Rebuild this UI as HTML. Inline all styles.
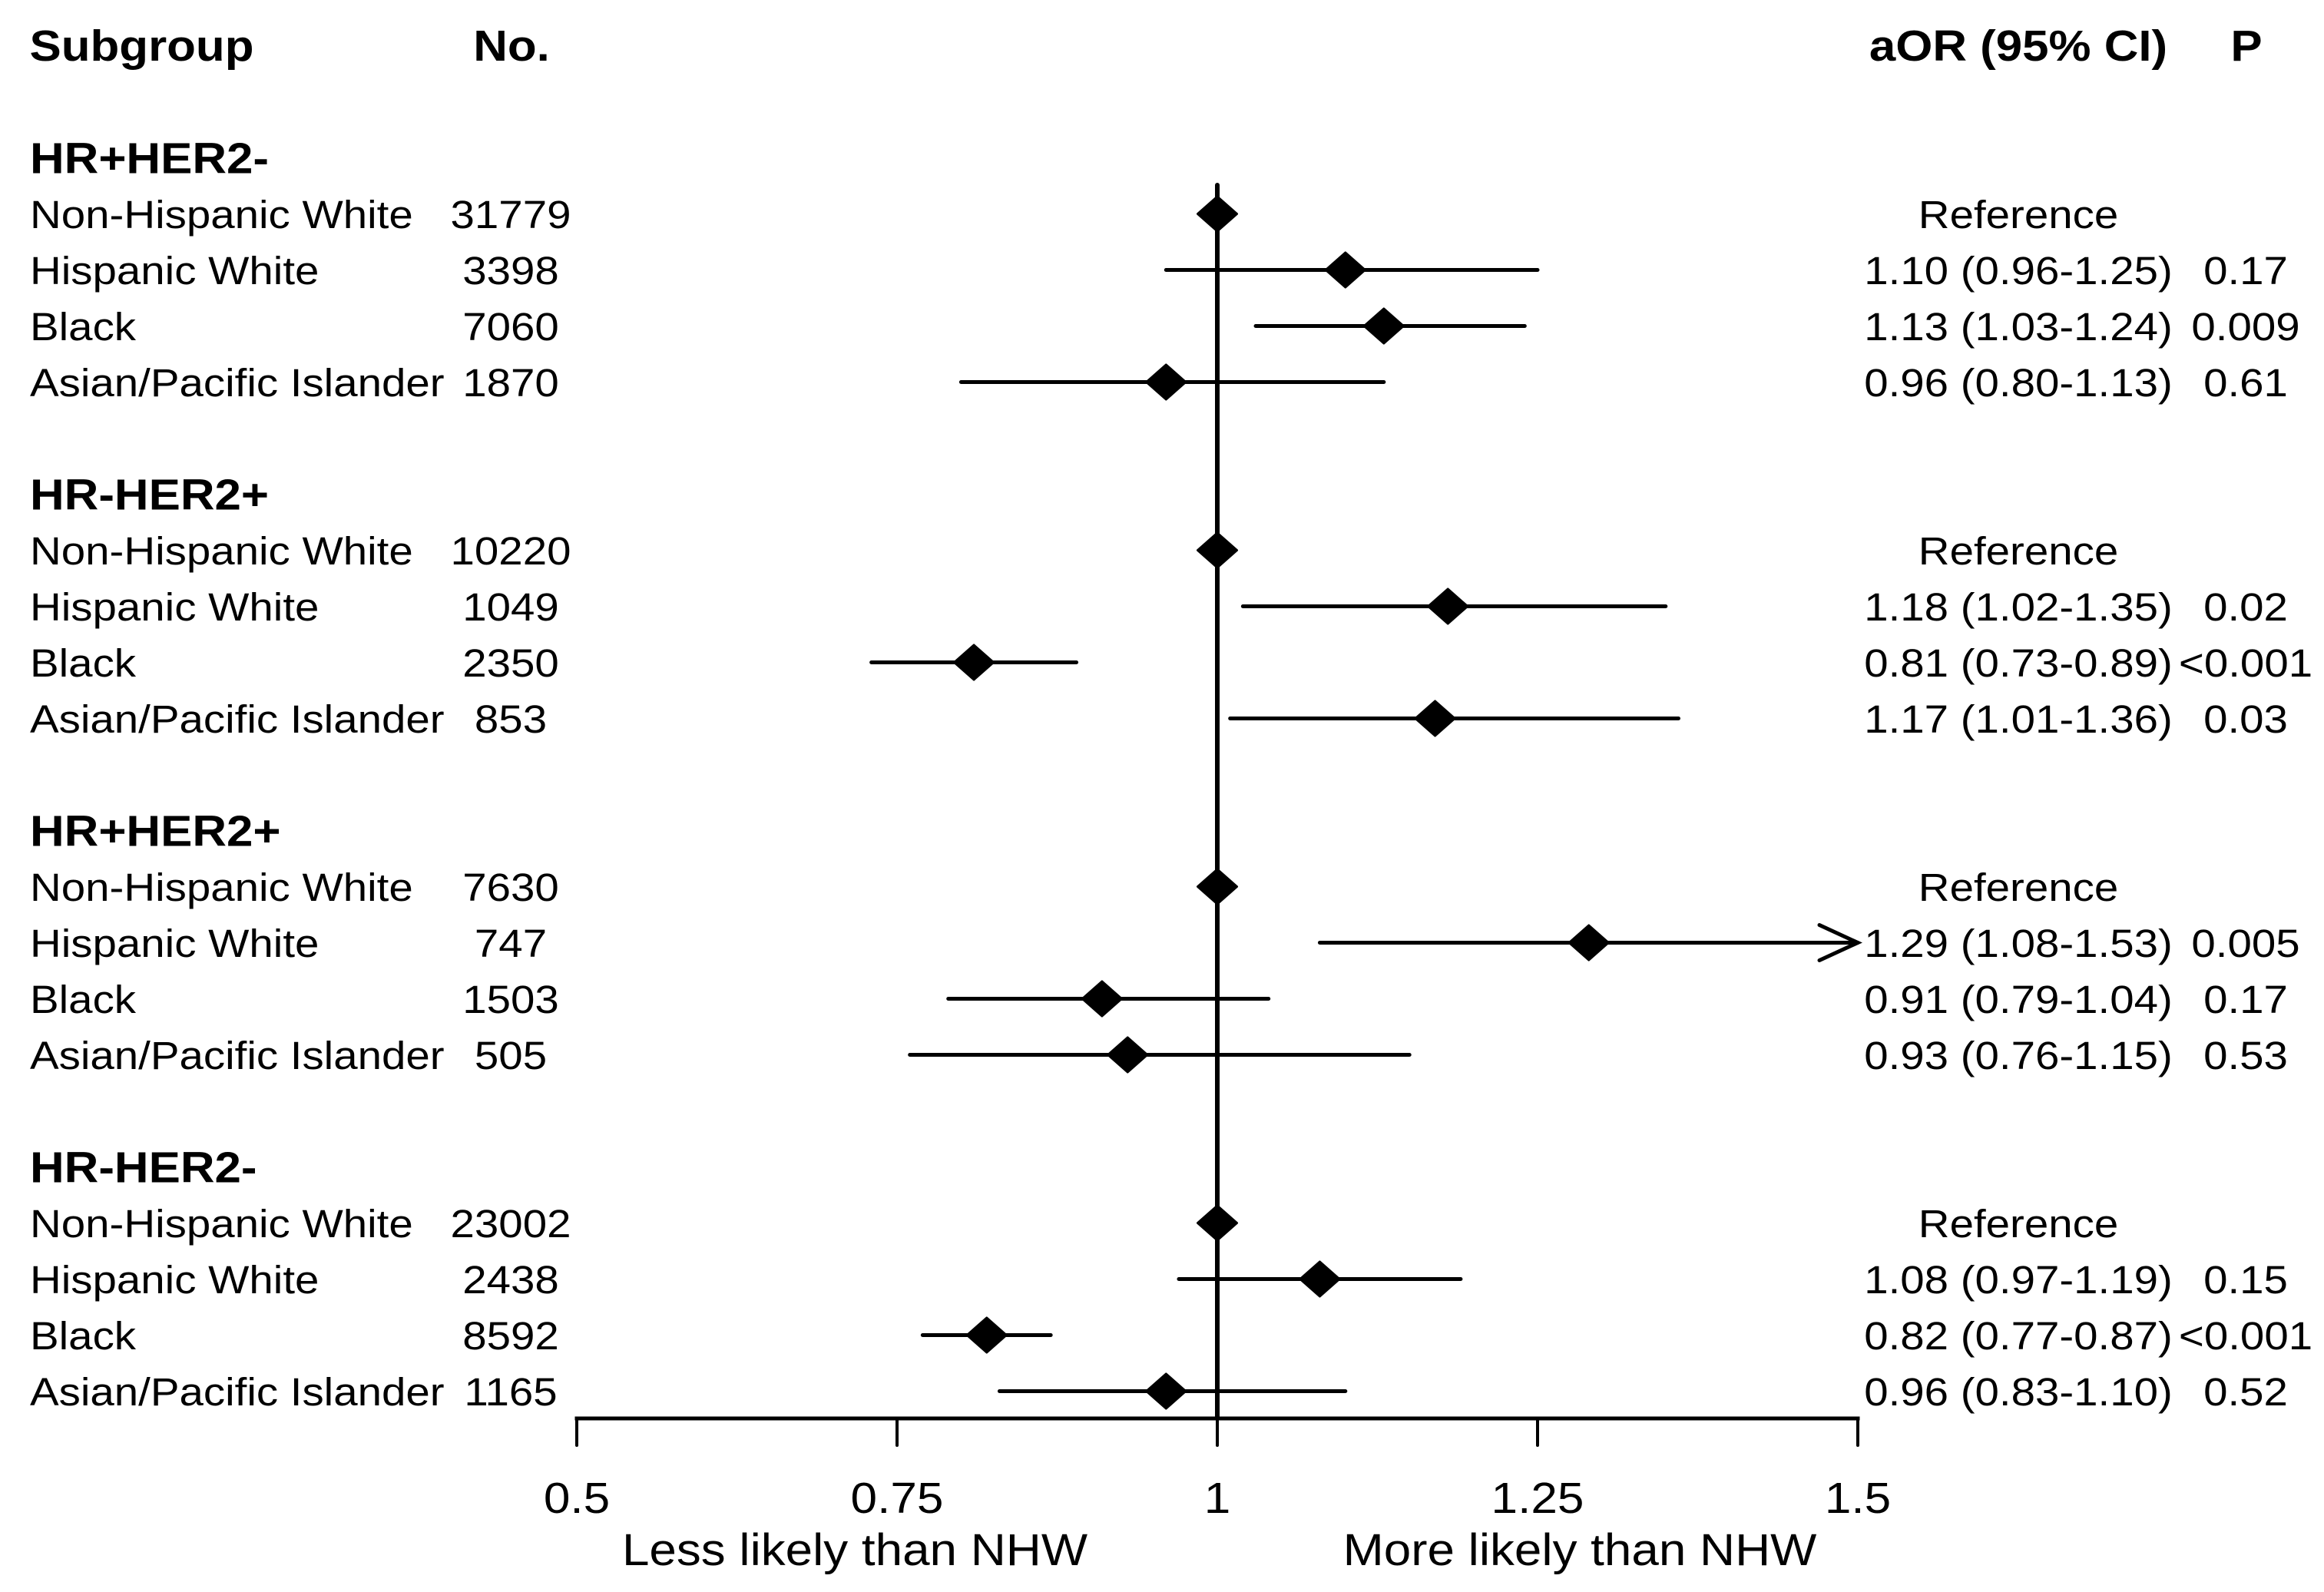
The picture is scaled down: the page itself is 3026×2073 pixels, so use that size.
<!DOCTYPE html>
<html lang="en">
<head>
<meta charset="utf-8">
<title>Forest plot of adjusted odds ratios by subgroup</title>
<style>
html,body{margin:0;padding:0;background:#fff;}
#chart{display:block;width:3026px;height:2073px;background:#fff;}
text{font-family:"Liberation Sans",Arial,sans-serif;fill:#000;}
.reg{font-size:51px;}
.bold{font-size:57px;font-weight:bold;}
.big{font-size:57px;}
.title{font-size:58px;}
</style>
</head>
<body>
<svg id="chart" xmlns="http://www.w3.org/2000/svg" width="3026" height="2073" viewBox="0 0 3026 2073"></svg>
<script>
const subgroups = ['HR+HER2-', 'HR-HER2+', 'HR+HER2+', 'HR-HER2-'];
const races = ['Non-Hispanic White', 'Hispanic White', 'Black', 'Asian/Pacific Islander'];
const counts = [
  ['31779', '3398', '7060', '1870'],
  ['10220', '1049', '2350', '853'],
  ['7630', '747', '1503', '505'],
  ['23002', '2438', '8592', '1165']
];
const oddsRatios = [
  [1, 1.10, 1.13, 0.96],
  [1, 1.18, 0.81, 1.17],
  [1, 1.29, 0.91, 0.93],
  [1, 1.08, 0.82, 0.96]
];
const ciLow = [
  [null, 0.96, 1.03, 0.80],
  [null, 1.02, 0.73, 1.01],
  [null, 1.08, 0.79, 0.76],
  [null, 0.97, 0.77, 0.83]
];
const ciHigh = [
  [null, 1.25, 1.24, 1.13],
  [null, 1.35, 0.89, 1.36],
  [null, 1.53, 1.04, 1.15],
  [null, 1.19, 0.87, 1.10]
];
const pValues = [
  ['', '0.17', '0.009', '0.61'],
  ['', '0.02', '<0.001', '0.03'],
  ['', '0.005', '0.17', '0.53'],
  ['', '0.15', '<0.001', '0.52']
];
const tickValues = [0.5, 0.75, 1, 1.25, 1.5];
const tickLabels = ['0.5', '0.75', '1', '1.25', '1.5'];

const svg = document.getElementById('chart');
const NS = 'http://www.w3.org/2000/svg';
const xMin = 0.5, xMax = 1.5, pxMin = 751, pxMax = 2419;
const textStretch = { reg: 1.107, bold: 1.085, big: 1.09, title: 1.1 };
function xScale(v) { return pxMin + (v - xMin) / (xMax - xMin) * (pxMax - pxMin); }
function rowY(g, r) { return 278.5 + (g * 6 + r) * 73; }

function addText(str, x, y, cls, anchor) {
  const t = document.createElementNS(NS, 'text');
  t.setAttribute('transform', 'translate(' + x + ' ' + y + ') scale(' + textStretch[cls] + ' 1)');
  t.setAttribute('class', cls);
  t.setAttribute('text-anchor', anchor || 'start');
  t.textContent = str;
  svg.appendChild(t);
  return t;
}
function addLine(x1, y1, x2, y2, w, cap) {
  const l = document.createElementNS(NS, 'line');
  l.setAttribute('x1', x1);
  l.setAttribute('y1', y1);
  l.setAttribute('x2', x2);
  l.setAttribute('y2', y2);
  l.setAttribute('stroke', '#000');
  l.setAttribute('stroke-width', w);
  l.setAttribute('stroke-linecap', cap || 'round');
  svg.appendChild(l);
  return l;
}

/* column headers */
let el;
el = addText('Subgroup', 38.5, 79, 'bold');


el = addText('No.', 666, 79, 'bold', 'middle');


el = addText('aOR (95% CI)', 2628, 79, 'bold', 'middle');


el = addText('P', 2925, 79, 'bold', 'middle');



/* reference line at OR = 1 */
el = addLine(xScale(1), 241, xScale(1), 1847, 6);



/* x axis */
el = addLine(pxMin, 1847, pxMax, 1847, 5, 'square');


tickValues.forEach(function (v, i) {
  const tick = addLine(xScale(v), 1847, xScale(v), 1882, 4);
  
  
  const label = addText(tickLabels[i], xScale(v), 1970, 'big', 'middle');
  
  
});
el = addText('Less likely than NHW', 1113, 2038, 'title', 'middle');


el = addText('More likely than NHW', 2057, 2038, 'title', 'middle');



/* rows */
subgroups.forEach(function (sg, g) {
  const head = addText(sg, 39, rowY(g, -1) + 20, 'bold');
  
  

  races.forEach(function (race, r) {
    const y = rowY(g, r);
    const base = y + 18.5;
    const name = addText(race, 39, base, 'reg');
    
    
    const count = addText(counts[g][r], 665, base, 'reg', 'middle');
    
    

    const or = oddsRatios[g][r], lo = ciLow[g][r], hi = ciHigh[g][r];
    if (lo !== null) {
      const clippedHigh = Math.min(hi, xMax);
      const ci = addLine(xScale(Math.max(lo, xMin)), y, xScale(clippedHigh), y, 5);
      
      
      if (hi > xMax) {
        const tip = xScale(xMax);
        const arrow = document.createElementNS(NS, 'polyline');
        arrow.setAttribute('points', (tip - 50) + ',' + (y - 23) + ' ' + tip + ',' + y + ' ' + (tip - 50) + ',' + (y + 23));
        arrow.setAttribute('fill', 'none');
        arrow.setAttribute('stroke', '#000');
        arrow.setAttribute('stroke-width', 5);
        arrow.setAttribute('stroke-linecap', 'round');
        
        
        svg.appendChild(arrow);
      }
      const aor = addText(or.toFixed(2) + ' (' + lo.toFixed(2) + '-' + hi.toFixed(2) + ')', 2628, base, 'reg', 'middle');
      
      
      const p = addText(pValues[g][r], 2924, base, 'reg', 'middle');
      
      
    } else {
      const ref = addText('Reference', 2628, base, 'reg', 'middle');
      
      
    }

    const cx = xScale(or);
    const d = document.createElementNS(NS, 'polygon');
    d.setAttribute('points', (cx - 25.5) + ',' + y + ' ' + cx + ',' + (y - 22.5) + ' ' + (cx + 25.5) + ',' + y + ' ' + cx + ',' + (y + 22.5));
    d.setAttribute('fill', '#000');
    d.setAttribute('stroke', '#000');
    d.setAttribute('stroke-width', 3);
    d.setAttribute('stroke-linejoin', 'round');
    
    
    svg.appendChild(d);
  });
});
</script>
</body>
</html>
